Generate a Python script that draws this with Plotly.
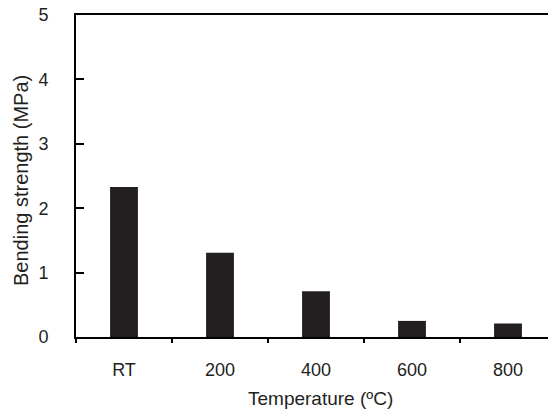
import plotly.graph_objects as go

categories = ["RT", "200", "400", "600", "800"]
strength = [2.33, 1.31, 0.71, 0.25, 0.21]
y_ticks = [0, 1, 2, 3, 4, 5]
x_title = "Temperature (ºC)"
y_title = "Bending strength (MPa)"

ink = "#231f20"
tick_font = dict(family="Liberation Sans, Arial, sans-serif", size=18, color=ink)
x_title_font = dict(family="Liberation Sans, Arial, sans-serif", size=19, color=ink)
y_title_font = dict(family="Liberation Sans, Arial, sans-serif", size=20, color=ink)

fig = go.Figure(go.Bar(x=categories, y=strength, width=0.29,
                       marker=dict(color=ink, line=dict(width=0))))

fig.update_layout(
    width=548, height=410,
    margin=dict(l=76, r=0, t=15, b=73),
    plot_bgcolor="white", paper_bgcolor="white",
    font=tick_font, showlegend=False,
    xaxis=dict(
        range=[-0.5, -0.5 + 472 / 96],
        showline=True, linecolor="black", linewidth=2, mirror=True,
        ticks="outside", tickson="boundaries", ticklen=4, tickwidth=2, tickcolor="black",
        ticklabelstandoff=15, tickfont=tick_font,
        showgrid=False, zeroline=False,
    ),
    yaxis=dict(
        range=[0, 5], tickvals=y_ticks,
        showline=True, linecolor="black", linewidth=2,
        ticks="inside", ticklen=8, tickwidth=2, tickcolor="black",
        ticklabelstandoff=22, tickfont=tick_font,
        showgrid=False, zeroline=False,
    ),
    annotations=[
        dict(text=x_title, xref="paper", yref="paper", x=0.519, y=0,
             xanchor="center", yanchor="middle", yshift=-61,
             showarrow=False, font=x_title_font),
        dict(text=y_title, xref="paper", yref="paper", x=0, y=0.4845,
             xanchor="center", yanchor="middle", xshift=-55, textangle=-90,
             showarrow=False, font=y_title_font),
    ],
)

fig.write_html("out.html")
